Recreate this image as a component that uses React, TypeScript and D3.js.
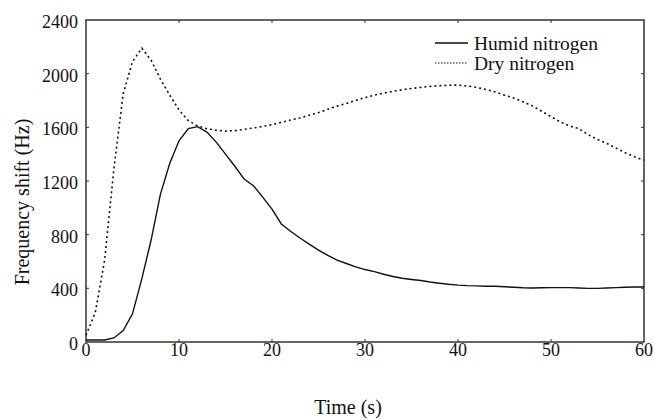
import React, { useEffect, useRef } from 'react';
import * as d3 from 'd3';

const time = d3.range(0, 61);

const humid = [
  15, 15, 15, 30, 85, 210, 470, 760, 1100, 1330,
  1500, 1590, 1605, 1565, 1490, 1400, 1310, 1215, 1165, 1080,
  990, 880, 825, 775, 730, 685, 645, 610, 585, 560,
  540, 525, 505, 488, 475, 466, 458, 447, 438, 430,
  424, 420, 418, 416, 415, 412, 408, 404, 402, 404,
  405, 405, 405, 402, 400, 400, 402, 405, 408, 410,
  410,
];

const dry = [
  50, 220, 610, 1290, 1850, 2090, 2190, 2100, 1960, 1840,
  1730, 1650, 1610, 1590, 1578, 1572, 1575, 1585, 1595, 1607,
  1620, 1637, 1655, 1670, 1690, 1710, 1735, 1758, 1778, 1800,
  1822, 1840, 1855, 1868, 1880, 1890, 1898, 1905, 1910, 1914,
  1915, 1908, 1898, 1882, 1864, 1840, 1818, 1790, 1760, 1720,
  1680, 1640, 1610, 1590, 1545, 1510, 1480, 1445, 1410, 1380,
  1355,
];

const xTicks = [0, 10, 20, 30, 40, 50, 60];
const yTicks = [0, 400, 800, 1200, 1600, 2000, 2400];

const seriesNames = ['Humid nitrogen', 'Dry nitrogen'];

const App = () => {
  const svgRef = useRef(null);
  const width = 655;
  const height = 420;
  const margin = { top: 20, right: 11, bottom: 78, left: 86 };

  useEffect(() => {
    const svg = d3.select(svgRef.current);
    svg.selectAll('*').remove();

    const innerWidth = width - margin.left - margin.right;
    const innerHeight = height - margin.top - margin.bottom;
    const font = '"Liberation Serif", "Times New Roman", serif';
    const ink = '#111';

    const g = svg.append('g')
      .attr('transform', `translate(${margin.left},${margin.top})`);

    const x = d3.scaleLinear().domain([0, 60]).range([0, innerWidth]);
    const y = d3.scaleLinear().domain([0, 2400]).range([innerHeight, 0]);

    // frame
    g.append('rect')
      .attr('width', innerWidth)
      .attr('height', innerHeight)
      .style('fill', 'none')
      .style('stroke', '#333')
      .style('stroke-width', 1.5);

    // inward ticks on all four sides
    const tl = 3;
    xTicks.slice(1, -1).forEach(t => {
      g.append('line').attr('x1', x(t)).attr('x2', x(t))
        .attr('y1', innerHeight).attr('y2', innerHeight - tl)
        .style('stroke', '#333');
      g.append('line').attr('x1', x(t)).attr('x2', x(t))
        .attr('y1', 0).attr('y2', tl)
        .style('stroke', '#333');
    });
    yTicks.slice(1, -1).forEach(t => {
      g.append('line').attr('x1', 0).attr('x2', tl)
        .attr('y1', y(t)).attr('y2', y(t))
        .style('stroke', '#333');
      g.append('line').attr('x1', innerWidth).attr('x2', innerWidth - tl)
        .attr('y1', y(t)).attr('y2', y(t))
        .style('stroke', '#333');
    });

    // tick labels
    g.selectAll('.xlab')
      .data(xTicks)
      .enter().append('text')
      .attr('x', d => x(d))
      .attr('y', innerHeight + 14)
      .attr('text-anchor', 'middle')
      .style('font-family', font)
      .style('font-size', '18px')
      .style('fill', ink)
      .text(d => d);

    g.selectAll('.ylab')
      .data(yTicks)
      .enter().append('text')
      .attr('x', -8)
      .attr('y', d => y(d) + 8)
      .attr('text-anchor', 'end')
      .style('font-family', font)
      .style('font-size', '18px')
      .style('fill', ink)
      .text(d => d);

    // axis titles
    g.append('text')
      .attr('x', 262)
      .attr('y', innerHeight + 72)
      .attr('text-anchor', 'middle')
      .style('font-family', font)
      .style('font-size', '20px')
      .style('fill', ink)
      .text('Time (s)');

    g.append('text')
      .attr('transform', 'rotate(-90)')
      .attr('x', -182)
      .attr('y', -57)
      .attr('text-anchor', 'middle')
      .style('font-family', font)
      .style('font-size', '20px')
      .style('fill', ink)
      .text('Frequency shift (Hz)');

    // lines
    const line = d3.line<number>()
      .x((d, i) => x(time[i]))
      .y(d => y(d));

    g.append('path')
      .datum(dry)
      .attr('d', line)
      .style('fill', 'none')
      .style('stroke', ink)
      .style('stroke-width', 1.6)
      .style('stroke-dasharray', '2,3');

    g.append('path')
      .datum(humid)
      .attr('d', line)
      .style('fill', 'none')
      .style('stroke', ink)
      .style('stroke-width', 1.4);

    // legend
    const legend = g.append('g').attr('transform', `translate(${435 - margin.left}, 0)`);
    seriesNames.forEach((name, i) => {
      const ly = 23 + i * 20;
      legend.append('line')
        .attr('x1', 0).attr('x2', 33)
        .attr('y1', ly).attr('y2', ly)
        .style('stroke', ink)
        .style('stroke-width', i === 0 ? 1.4 : 1.2)
        .style('stroke-dasharray', i === 0 ? null : '1.5,1.5');
      legend.append('text')
        .attr('x', 39)
        .attr('y', ly + 6.5)
        .style('font-family', font)
        .style('font-size', '19.5px')
        .style('fill', ink)
        .text(name);
    });
  }, []);

  return (
    <svg
      ref={svgRef}
      width={width}
      height={height}
      style={{ position: 'absolute', left: 0, top: 0, background: '#fff' }}
    />
  );
};

export default App;
